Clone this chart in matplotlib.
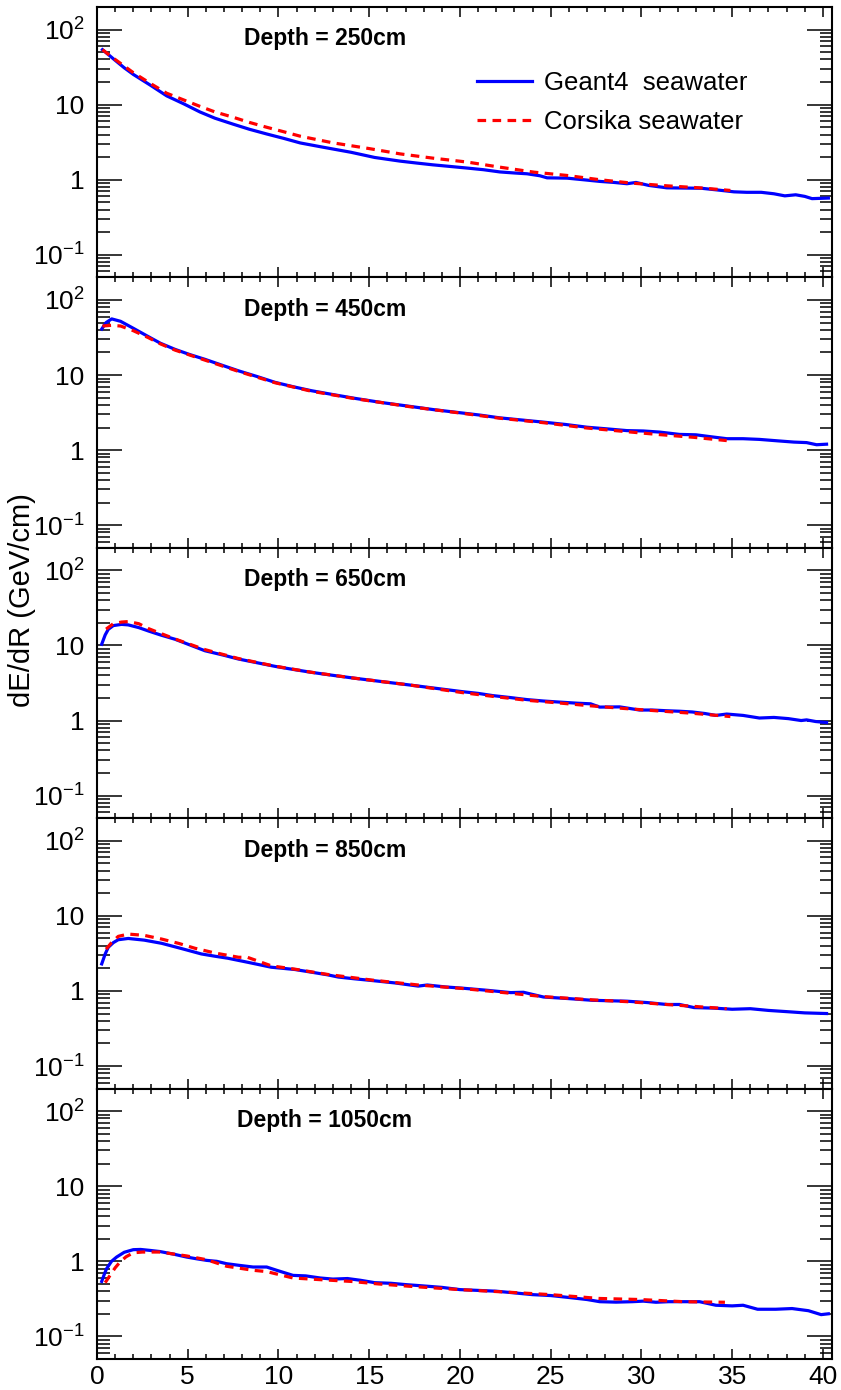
import numpy as np
import matplotlib
matplotlib.use('Agg')
import matplotlib.pyplot as plt
from matplotlib.ticker import LogLocator, MultipleLocator, FixedLocator, NullFormatter, FuncFormatter

plt.rcParams['font.family'] = ['Liberation Sans', 'DejaVu Sans']
plt.rcParams['mathtext.default'] = 'regular'

# ---- data (R in cm, dE/dR in GeV/cm) ----
depths = [250, 450, 650, 850, 1050]

g4_x_250 = [0.3, 0.6, 1.0, 1.5, 2.0, 3.0, 3.84, 4.8, 5.67, 6.5, 7.5, 8.4, 9.35, 10.3, 11.2, 12.5, 14.0, 15.3,
            16.7, 17.6, 18.5, 19.5, 20.4, 21.3, 22.2, 23.0, 23.7, 24.4, 24.8, 25.9, 26.8, 27.7, 28.5, 29.2,
            29.7, 30.4, 31.4, 32.3, 33.3, 34.2, 35.1, 35.8, 36.6, 37.3, 37.9, 38.5, 39.0, 39.4, 40.3]
g4_y_250 = [54, 47, 39, 31, 25.3, 17.8, 13.1, 10.2, 8.0, 6.6, 5.5, 4.7, 4.07, 3.55, 3.09, 2.7, 2.32, 1.98,
            1.77, 1.67, 1.58, 1.5, 1.43, 1.36, 1.27, 1.23, 1.2, 1.13, 1.06, 1.05, 1.0, 0.95, 0.92, 0.885,
            0.92, 0.84, 0.78, 0.775, 0.77, 0.73, 0.69, 0.68, 0.68, 0.65, 0.61, 0.63, 0.6, 0.56, 0.57]
co_x_250 = [0.3, 1.0, 2.0, 3.0, 3.84, 4.8, 5.67, 6.5, 7.5, 8.4, 9.35, 10.3, 11.2, 13.0, 15.0, 16.7, 18.5,
            20.4, 22.2, 24.1, 25.9, 27.7, 29.5, 31.4, 33.2, 34.9]
co_y_250 = [54, 40, 26.7, 18.8, 14.2, 11.5, 9.5, 8.0, 6.8, 5.8, 5.0, 4.35, 3.8, 3.1, 2.6, 2.21, 1.94,
            1.72, 1.47, 1.26, 1.14, 1.0, 0.9, 0.83, 0.78, 0.72]

g4_x_450 = [0.26, 0.5, 0.81, 1.3, 2.0, 2.83, 3.5, 4.3, 5.1, 5.95, 6.9, 7.79, 8.8, 9.81, 10.8, 11.8, 13.0,
            14.2, 15.7, 17.2, 18.6, 20.1, 21.1, 22.2, 23.4, 24.6, 25.8, 27.0, 28.1, 29.2, 30.1, 31.0, 32.1,
            33.0, 33.9, 34.7, 35.6, 36.5, 37.5, 38.4, 39.1, 39.65, 40.2]
g4_y_450 = [41, 50, 56, 52, 42, 32.5, 26.5, 22, 18.8, 16.2, 13.5, 11.4, 9.6, 8.0, 7.0, 6.2, 5.5,
            4.9, 4.3, 3.84, 3.45, 3.13, 2.93, 2.69, 2.52, 2.36, 2.2, 2.02, 1.92, 1.82, 1.8, 1.74, 1.62,
            1.6, 1.5, 1.42, 1.42, 1.39, 1.33, 1.28, 1.26, 1.18, 1.2]
co_x_450 = [0.3, 0.8, 1.3, 2.0, 2.83, 3.5, 4.3, 5.95, 7.79, 9.81, 11.8, 14.2, 17.2, 20.1, 22.2, 24.6,
            27.0, 29.2, 31.0, 32.9, 34.7]
co_y_450 = [45, 46, 45, 39, 31.5, 26, 21.5, 15.8, 11.2, 7.9, 6.1, 4.85, 3.8, 3.1, 2.66, 2.32,
            1.97, 1.76, 1.61, 1.48, 1.34]

g4_x_650 = [0.26, 0.45, 0.62, 0.9, 1.35, 1.72, 2.3, 2.83, 3.5, 4.3, 5.1, 5.95, 6.9, 7.79, 8.8, 9.81, 10.8,
            11.8, 13.0, 14.2, 15.7, 17.2, 18.6, 20.1, 21.0, 21.8, 22.8, 23.7, 24.6, 25.5, 26.5, 27.2, 27.7,
            28.8, 29.9, 30.6, 31.4, 32.1, 32.8, 33.5, 34.1, 34.7, 35.6, 36.5, 37.3, 38.1, 38.8, 39.1, 39.6,
            40.2]
g4_y_650 = [10.4, 13.8, 16.4, 18.4, 19.1, 18.8, 17.3, 15.6, 13.8, 12.1, 10.2, 8.5, 7.5, 6.6, 5.9, 5.27, 4.8,
            4.39, 4.0, 3.66, 3.3, 2.98, 2.7, 2.43, 2.3, 2.15, 2.02, 1.9, 1.82, 1.76, 1.7, 1.67, 1.51,
            1.52, 1.38, 1.38, 1.35, 1.33, 1.3, 1.24, 1.17, 1.22, 1.17, 1.08, 1.1, 1.06, 1.0, 1.02, 0.97,
            0.94]
co_x_650 = [0.5, 0.9, 1.35, 1.72, 2.3, 2.83, 3.5, 4.3, 5.95, 7.79, 9.81, 11.8, 14.2, 17.2, 20.1, 21.8,
            23.7, 25.5, 27.2, 29.0, 30.8, 32.8, 34.9]
co_y_650 = [16.5, 19.5, 20.5, 20.8, 19.5, 16.8, 14.5, 12.2, 8.8, 6.7, 5.3, 4.4, 3.66, 2.98, 2.36, 2.1,
            1.86, 1.71, 1.57, 1.45, 1.35, 1.25, 1.13]

g4_x_850 = [0.26, 0.45, 0.62, 0.9, 1.17, 1.72, 2.6, 3.56, 4.6, 5.75, 6.5, 7.2, 8.3, 9.6, 10.9, 11.8, 12.7,
            13.3, 14.2, 15.1, 16.4, 17.7, 18.2, 19.2, 20.1, 21.5, 22.8, 23.5, 24.6, 26.0, 27.3, 29.2, 30.3,
            31.4, 32.1, 32.9, 34.0, 35.0, 36.0, 37.0, 38.0, 39.0, 40.2]
g4_y_850 = [2.29, 3.1, 3.81, 4.4, 4.81, 5.0, 4.75, 4.31, 3.7, 3.11, 2.9, 2.73, 2.41, 2.07, 1.93, 1.78, 1.64,
            1.53, 1.45, 1.38, 1.28, 1.16, 1.2, 1.13, 1.09, 1.02, 0.95, 0.96, 0.83, 0.79, 0.75, 0.73, 0.7,
            0.66, 0.66, 0.6, 0.59, 0.57, 0.58, 0.55, 0.53, 0.51, 0.5]
co_x_850 = [0.5, 0.8, 1.17, 1.72, 2.6, 3.56, 4.5, 5.4, 6.5, 7.8, 8.3, 9.6, 10.9, 12.7, 15.1, 17.7,
            20.1, 22.8, 24.6, 27.3, 29.2, 31.4, 33.0, 34.7]
co_y_850 = [3.6, 4.4, 5.33, 5.72, 5.5, 4.91, 4.3, 3.7, 3.2, 2.81, 2.8, 2.16, 1.95, 1.66, 1.4, 1.2,
            1.08, 0.93, 0.84, 0.76, 0.72, 0.66, 0.62, 0.58]

g4_x_1050 = [0.26, 0.4, 0.53, 0.8, 1.08, 1.5, 2.0, 2.4, 2.9, 3.47, 4.2, 4.94, 5.5, 6.04, 6.6, 7.14, 7.9,
             8.6, 9.35, 9.9, 10.8, 11.5, 12.3, 13.0, 13.8, 14.5, 15.3, 16.2, 17.0, 18.0, 19.0, 20.0, 21.0,
             22.0, 23.0, 24.0, 25.0, 26.0, 27.0, 27.7, 28.6, 29.5, 30.1, 30.8, 31.5, 32.3, 33.2, 34.1,
             35.0, 35.6, 36.4, 37.4, 38.3, 39.2, 39.9, 40.3]
g4_y_1050 = [0.54, 0.67, 0.8, 1.0, 1.14, 1.32, 1.43, 1.44, 1.4, 1.35, 1.25, 1.14, 1.08, 1.03, 1.0, 0.93, 0.88,
             0.84, 0.84, 0.76, 0.65, 0.64, 0.6, 0.58, 0.59, 0.56, 0.52, 0.51, 0.49, 0.47, 0.45, 0.42, 0.41,
             0.4, 0.38, 0.36, 0.35, 0.33, 0.31, 0.29, 0.286, 0.29, 0.295, 0.285, 0.29, 0.29, 0.29, 0.26,
             0.255, 0.26, 0.23, 0.23, 0.235, 0.22, 0.195, 0.2]
co_x_1050 = [0.45, 0.72, 1.0, 1.27, 1.6, 2.0, 2.5, 3.47, 4.94, 6.04, 7.14, 8.6, 9.35, 10.8, 12.3, 14.0,
             15.5, 17.5, 20.0, 22.5, 25.0, 27.7, 29.9, 32.3, 34.6]
co_y_1050 = [0.52, 0.65, 0.82, 0.98, 1.15, 1.3, 1.33, 1.33, 1.18, 1.05, 0.86, 0.76, 0.73, 0.6, 0.57, 0.54,
             0.5, 0.46, 0.42, 0.39, 0.36, 0.32, 0.31, 0.29, 0.285]

g4_x = [g4_x_250, g4_x_450, g4_x_650, g4_x_850, g4_x_1050]
g4_y = [g4_y_250, g4_y_450, g4_y_650, g4_y_850, g4_y_1050]
co_x = [co_x_250, co_x_450, co_x_650, co_x_850, co_x_1050]
co_y = [co_y_250, co_y_450, co_y_650, co_y_850, co_y_1050]

ylabels = {0.1: '$10^{-1}$', 1.0: '1', 10.0: '10', 100.0: '$10^{2}$'}

W, H = 841, 1390
left, right, top, bottom = 97, 832, 7, 1359
ph = (bottom - top) / 5.0

fig = plt.figure(figsize=(W / 100, H / 100), dpi=100)

for i, d in enumerate(depths):
    ax = fig.add_axes([left / W, 1 - (top + ph * (i + 1)) / H, (right - left) / W, ph / H])
    ax.plot(g4_x[i], g4_y[i], color='#0000ff', lw=2.3, label='Geant4  seawater')
    ax.plot(co_x[i], co_y[i], color='#ff0000', lw=2.3, ls=(0, (2.7, 2.0)), label='Corsika seawater')
    ax.set_yscale('log')
    ax.set_ylim(0.05, 200)
    ax.set_xlim(0, 40.5)

    ax.yaxis.set_major_locator(FixedLocator([0.1, 1, 10, 100]))
    ax.yaxis.set_minor_locator(LogLocator(base=10, subs=np.arange(2, 10)))
    ax.yaxis.set_minor_formatter(NullFormatter())
    ax.yaxis.set_major_formatter(FuncFormatter(lambda v, p: ylabels.get(round(v, 3), '')))
    ax.xaxis.set_major_locator(MultipleLocator(5))
    ax.xaxis.set_minor_locator(MultipleLocator(1))

    ax.tick_params(axis='y', which='major', direction='in', length=18, width=1.1,
                   left=True, right=True, labelsize=19, pad=9)
    ax.tick_params(axis='y', which='minor', direction='in', length=9, width=1.1,
                   left=True, right=True)
    ax.tick_params(axis='x', which='major', direction='in', length=7, width=1.1,
                   top=True, bottom=True, labelsize=19, pad=4)
    ax.tick_params(axis='x', which='minor', direction='in', length=3.8, width=1.1,
                   top=True, bottom=True)
    if i < 4:
        ax.tick_params(axis='x', labelbottom=False)
    for s in ax.spines.values():
        s.set_linewidth(1.5)

    ax.text(0.31, 1 - 32 / ph, 'Depth = %dcm' % d, transform=ax.transAxes,
            ha='center', va='center', fontsize=16.5, fontweight='bold')

    if i == 0:
        ax.legend(loc='upper left', bbox_to_anchor=(0.517, 0.765), frameon=False,
                  fontsize=18.5, handlelength=2.15, handletextpad=0.45, labelspacing=0.62,
                  borderpad=0, borderaxespad=0)

fig.text(22 / W, 1 - 600 / H, 'dE/dR (GeV/cm)', rotation=90, ha='center', va='center', fontsize=21)

fig.savefig('out.png', dpi=100)
